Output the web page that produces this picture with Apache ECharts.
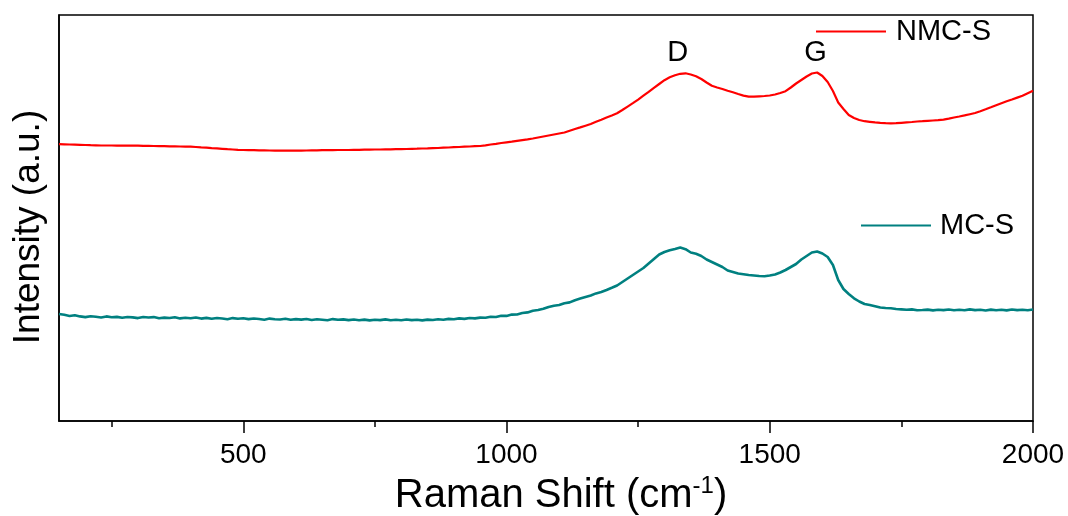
<!DOCTYPE html>
<html>
<head>
<meta charset="utf-8">
<title>Raman</title>
<script src="https://cdn.jsdelivr.net/npm/echarts@6/dist/echarts.min.js"></script>
<style>
  html, body { margin: 0; padding: 0; background: #fff; }
  #chart { width: 1068px; height: 516px; }
</style>
</head>
<body>
<div id="chart"></div>
<script>
// Raman shift grid (cm-1), one reading every 10 cm-1
const shift = [];
for (let v = 150; v <= 2000; v += 10) shift.push(v);

// NMC-S intensity (a.u.)
const nmcS = [
  276.8, 276.7, 276.5, 276.4, 276.2, 276.0, 275.8, 275.7, 275.5, 275.5,
  275.5, 275.4, 275.4, 275.4, 275.3, 275.3, 275.2, 275.1, 275.0, 274.9,
  274.8, 274.7, 274.6, 274.5, 274.4, 274.3, 274.0, 273.6, 273.3, 272.9,
  272.6, 272.2, 271.8, 271.5, 271.2, 271.0, 270.9, 270.8, 270.7, 270.6,
  270.5, 270.4, 270.4, 270.3, 270.3, 270.4, 270.4, 270.5, 270.6, 270.7,
  270.8, 270.8, 270.9, 271.0, 271.0, 271.0, 271.1, 271.2, 271.3, 271.4,
  271.5, 271.5, 271.6, 271.7, 271.8, 271.9, 272.0, 272.2, 272.3, 272.5,
  272.6, 272.8, 273.0, 273.3, 273.5, 273.8, 274.0, 274.3, 274.5, 274.8,
  275.0, 275.7, 276.5, 277.2, 278.0, 278.7, 279.4, 280.2, 280.9, 281.6,
  282.5, 283.5, 284.5, 285.5, 286.5, 287.5, 288.5, 290.3, 292.0, 293.6,
  295.3, 297.0, 299.2, 301.3, 303.5, 305.6, 307.8, 311.0, 314.4, 317.8,
  321.4, 325.3, 329.2, 333.2, 337.0, 340.8, 343.7, 345.7, 347.2, 347.7,
  346.5, 344.8, 342.0, 338.5, 335.2, 333.5, 332.0, 330.2, 328.7, 327.0,
  325.4, 324.3, 324.4, 324.7, 325.0, 325.5, 326.5, 328.0, 329.8, 333.5,
  337.5, 341.0, 344.5, 347.5, 348.5, 345.0, 339.0, 330.0, 318.5, 312.0,
  306.0, 303.0, 301.0, 299.8, 299.2, 298.6, 298.2, 297.9, 297.7, 297.8,
  298.2, 298.6, 299.0, 299.5, 299.8, 300.2, 300.5, 300.8, 301.4, 302.4,
  303.5, 304.5, 305.6, 306.8, 308.0, 309.8, 311.7, 313.7, 315.8, 317.8,
  319.7, 321.5, 323.4, 325.3, 327.8, 330.3
];

// MC-S intensity (a.u.)
const mcS = [
  107.0, 106.2, 105.0, 105.8, 104.6, 103.9, 104.8, 104.2, 103.5, 104.6,
  103.8, 104.1, 103.2, 104.0, 103.6, 102.9, 104.0, 103.5, 103.9, 102.8,
  103.4, 103.0, 103.8, 102.6, 103.2, 102.7, 103.5, 102.4, 103.1, 102.2,
  103.0, 102.5, 101.8, 102.9, 102.3, 102.7, 101.9, 102.5, 102.0, 101.3,
  102.4, 101.8, 101.5, 102.2, 101.2, 101.9, 101.4, 102.0, 101.0, 101.7,
  101.3, 100.8, 101.9, 101.2, 101.6, 100.9, 101.5, 100.8, 101.4, 100.6,
  101.2, 100.9, 101.6, 100.7, 101.3, 100.8, 101.5, 100.9, 101.2, 100.6,
  101.4, 101.0, 101.8, 101.3, 102.1, 101.7, 102.6, 102.1, 103.0, 102.6,
  103.4, 103.2, 104.3, 104.0, 105.2, 105.1, 106.4, 106.5, 108.0, 108.6,
  110.3, 111.0, 112.2, 114.0, 115.3, 116.0, 117.8, 118.6, 120.8, 122.4,
  124.0, 125.5, 127.6, 129.0, 131.0, 133.2, 135.5, 139.0, 142.5, 146.0,
  149.5, 153.0, 157.5, 162.0, 166.5, 169.0, 170.8, 172.0, 173.5, 171.8,
  168.5, 167.2, 165.0, 161.5, 159.0, 156.5, 154.0, 150.5, 149.0, 147.5,
  146.8, 146.0, 145.5, 145.0, 144.8, 145.5, 146.5, 148.5, 151.0, 154.0,
  157.0, 161.5, 165.0, 168.5, 169.5, 167.5, 164.0, 156.0, 141.0, 132.0,
  127.0, 122.7, 119.5, 117.0, 116.0, 114.8, 113.5, 113.0, 112.7, 112.0,
  111.6, 111.2, 111.6, 110.8, 111.0, 111.4, 110.6, 111.2, 110.9, 111.5,
  110.7, 111.3, 110.8, 111.6, 110.9, 111.2, 110.5, 111.4, 110.8, 111.3,
  110.6, 111.5, 110.9, 111.2, 110.7, 111.5
];

const majorTicks = [500, 1000, 1500, 2000];
const minorTicks = [250, 750, 1250, 1750];
// band labels: [name, shift, intensity]
const bandLabels = [['D', 1325, 368], ['G', 1587, 368]];

const font = 'Arial, "Liberation Sans", sans-serif';
let chart = echarts.init(document.getElementById('chart'));

const pair = (ys) => shift.map((x, i) => [x, ys[i]]);

let option = {
  backgroundColor: '#fff',
  animation: false,
  grid: {
    left: 59, right: 35, top: 15, bottom: 95,
    outerBoundsMode: 'none',
    show: true, borderColor: '#000', borderWidth: 1.5, backgroundColor: '#fff'
  },
  legend: [
    {
      data: ['NMC-S'], left: 816, top: 17, padding: 0,
      icon: 'rect', itemWidth: 70, itemHeight: 2,
      textStyle: { fontFamily: font, fontSize: 29, color: '#000', padding: [0, 0, 0, 5] }
    },
    {
      data: ['MC-S'], left: 861, top: 211, padding: 0,
      icon: 'rect', itemWidth: 70, itemHeight: 2,
      textStyle: { fontFamily: font, fontSize: 29, color: '#000', padding: [0, 0, 0, 4] }
    }
  ],
  xAxis: [
    {
      type: 'value', min: 150, max: 2000,
      name: 'Raman Shift (cm{sup|-1})',
      nameLocation: 'middle', nameGap: 50,
      nameTextStyle: {
        fontFamily: font, fontSize: 40, color: '#000', padding: [0, 0, 0, 30],
        rich: { sup: { fontFamily: font, fontSize: 24, color: '#000', padding: [0, 0, 20, 0] } }
      },
      axisLine: { show: true, onZero: false, lineStyle: { color: '#000', width: 1.5 } },
      axisTick: { show: true, customValues: majorTicks, length: 12, lineStyle: { color: '#000', width: 1.5 } },
      axisLabel: {
        customValues: majorTicks, margin: 20, fontFamily: font, fontSize: 28, color: '#000',
        formatter: (v) => String(v)
      },
      splitLine: { show: false }
    },
    {
      type: 'value', min: 150, max: 2000, position: 'bottom',
      axisLine: { show: false },
      axisTick: { show: true, customValues: minorTicks, length: 6, lineStyle: { color: '#000', width: 1.5 } },
      axisLabel: { show: false },
      splitLine: { show: false }
    }
  ],
  yAxis: {
    type: 'value', min: 0, max: 406,
    name: 'Intensity (a.u.)',
    nameLocation: 'middle', nameGap: 12,
    nameTextStyle: { fontFamily: font, fontSize: 37, color: '#000', padding: [0, 18, 0, 0] },
    axisLine: { show: true, lineStyle: { color: '#000', width: 1.5 } },
    axisTick: { show: false },
    axisLabel: { show: false },
    splitLine: { show: false }
  },
  series: [
    {
      name: 'NMC-S', type: 'line', data: pair(nmcS),
      showSymbol: false, symbol: 'none', color: '#ff0000',
      lineStyle: { width: 2.2, color: '#ff0000' },
      markPoint: {
        symbol: 'circle', symbolSize: 0,
        label: { show: true, position: 'inside', formatter: '{b}', fontFamily: font, fontSize: 29, color: '#000' },
        data: bandLabels.map(b => ({ name: b[0], coord: [b[1], b[2]] }))
      }
    },
    {
      name: 'MC-S', type: 'line', data: pair(mcS),
      showSymbol: false, symbol: 'none', color: '#008080',
      lineStyle: { width: 2.6, color: '#008080' }
    }
  ]
};
chart.setOption(option);
</script>
</body>
</html>
